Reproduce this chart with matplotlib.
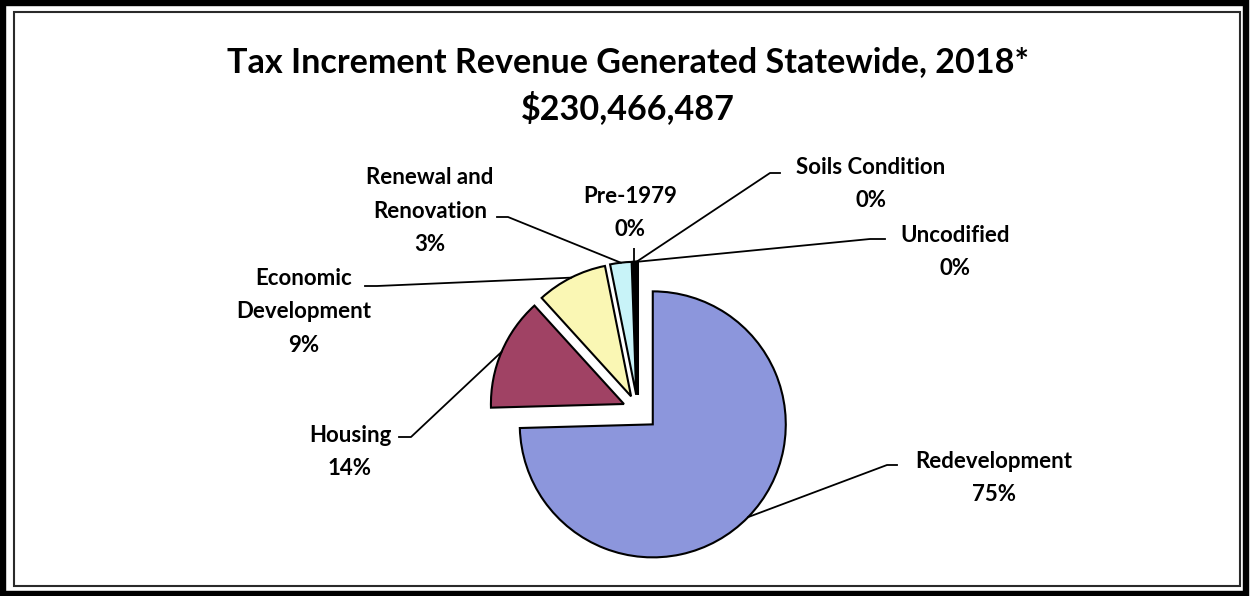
import matplotlib
matplotlib.use('Agg')
import matplotlib.pyplot as plt
import numpy as np
from matplotlib.patches import Rectangle

# ---- data ----
categories = ['Redevelopment', 'Housing', 'Economic\nDevelopment', 'Renewal and\nRenovation',
              'Pre-1979', 'Soils Condition', 'Uncodified']
shares = [74.6, 13.7, 8.6, 2.6, 0.3, 0.2, 0.05]
pct_labels = ['75%', '14%', '9%', '3%', '0%', '0%', '0%']
colors = ['#8C96DC', '#A04264', '#FAF7B4', '#C8F3F8', '#0A0A0A', '#1C2C7C', '#101030']
title_lines = ['Tax Increment Revenue Generated Statewide, 2018*', '$230,466,487']

W, H = 1250, 596
FONT = 'Lato'
RADIUS = 133

fig = plt.figure(figsize=(W / 100, H / 100), dpi=100)
ax = fig.add_axes([0, 0, 1, 1])

def Y(y):
    return H - y

explode_frac = [0.155, 0.115, 0.115, 0.115, 0.115, 0.115, 0.115]
wedges, _ = ax.pie(shares, explode=[e * RADIUS for e in explode_frac], colors=colors,
                   startangle=90, counterclock=False,
                   center=(638, Y(410)), radius=RADIUS,
                   wedgeprops=dict(edgecolor='black', linewidth=1.5))
ax.set_xlim(0, W)
ax.set_ylim(0, H)
ax.set_aspect('equal', adjustable='box')
ax.axis('off')

# frames
ax.add_patch(Rectangle((3, Y(594)), 1243, 591, fill=False, edgecolor='black', linewidth=4.6, clip_on=False))
ax.add_patch(Rectangle((14, Y(586)), 1226, 574, fill=False, edgecolor='#2a2a2a', linewidth=1.5, clip_on=False))

# title
ax.text(628, Y(62), title_lines[0], ha='center', va='center', fontsize=24.6, fontweight='bold', family=FONT)
ax.text(628, Y(108), title_lines[1], ha='center', va='center', fontsize=24.6, fontweight='bold', family=FONT)

# label layout: text center, stub (x_near_wedge, x_near_text, y) or None
layout = [
    ((994, 478), (887, 897, 465)),
    ((350, 452), (411, 399, 437)),
    ((304, 312), (377, 365, 286)),
    ((430, 211), (508, 497, 217)),
    ((630, 213), None),
    ((871, 184), (770, 780, 173)),
    ((955, 252), (870, 885, 239)),
]

for w, cat, pct, (tc, stub) in zip(wedges, categories, pct_labels, layout):
    th = np.deg2rad((w.theta1 + w.theta2) / 2)
    px = w.center[0] + w.r * np.cos(th)
    py = w.center[1] + w.r * np.sin(th)
    ax.text(tc[0], Y(tc[1]), cat + '\n' + pct, ha='center', va='center', fontsize=16,
            fontweight='bold', family=FONT, linespacing=1.72)
    if stub is None:
        ax.plot([px, px], [Y(248), py], color='black', lw=1.3, solid_capstyle='butt')
    else:
        x_near, x_far, sy = stub
        ax.plot([x_far, x_near, px], [Y(sy), Y(sy), py], color='black', lw=1.3)

fig.savefig('out.png', dpi=100)
